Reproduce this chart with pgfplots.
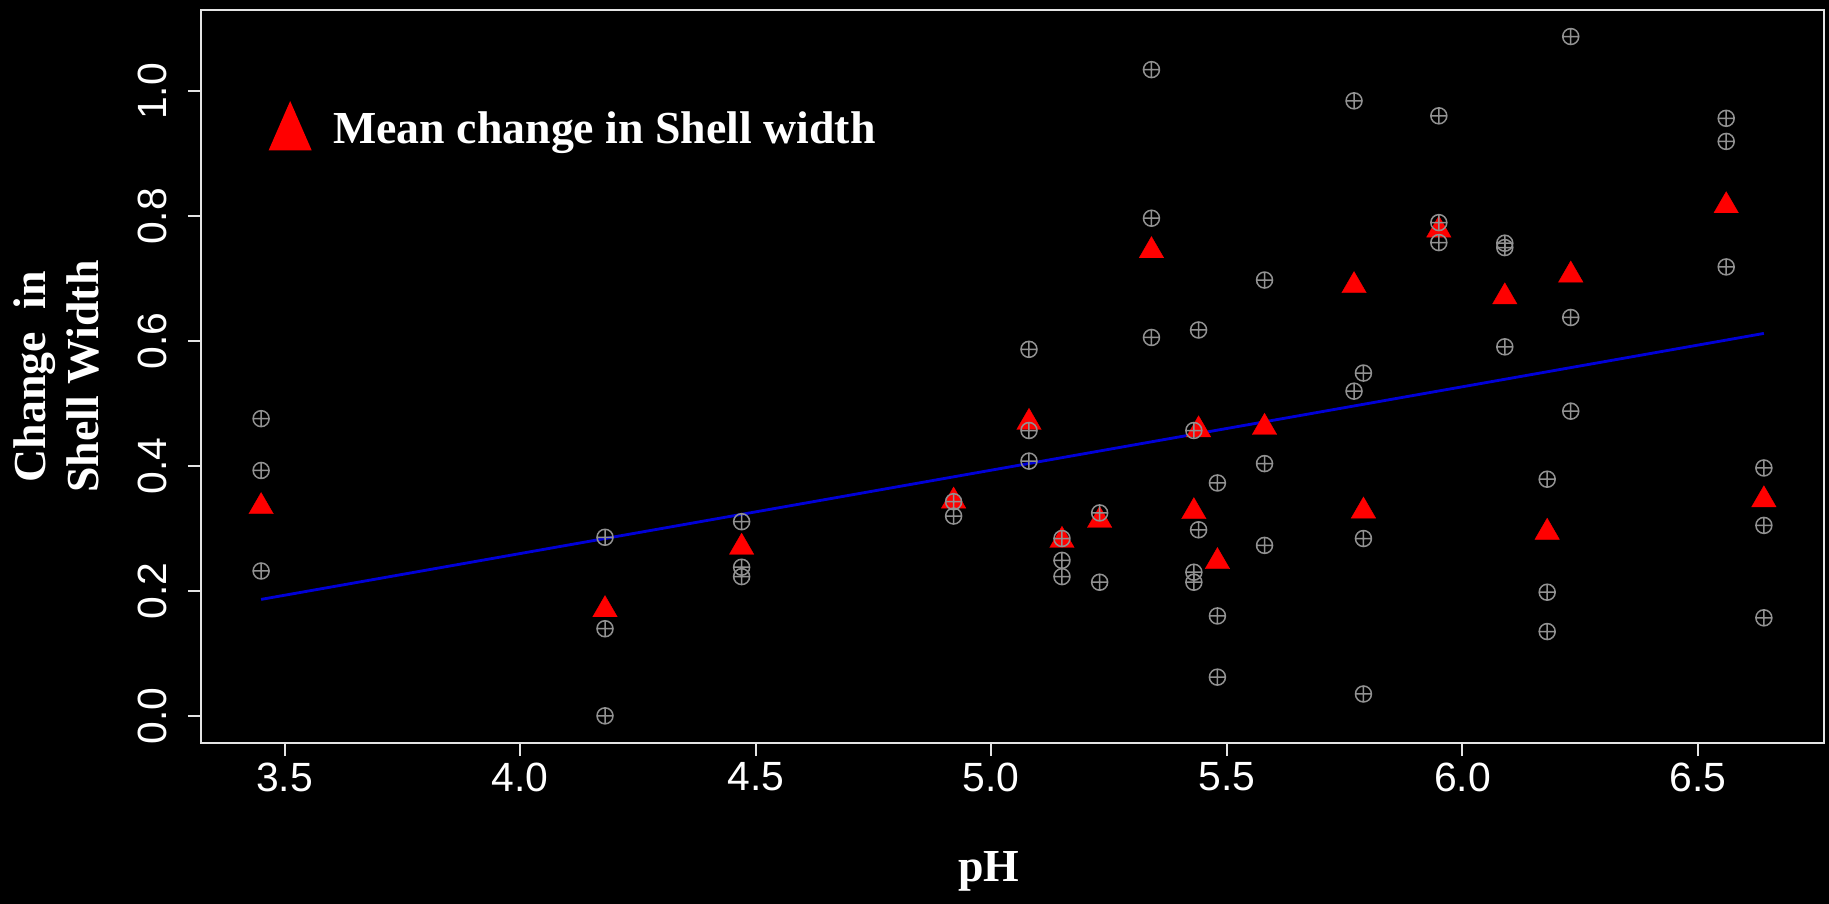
\documentclass[border=0pt]{standalone}
\usepackage{fontspec}
\setmainfont{Liberation Serif}
\newfontfamily\arialf{Liberation Sans}
\usepackage{pgfplots}
\pgfplotsset{compat=1.18}
\definecolor{ptgrey}{RGB}{145,145,145}
\definecolor{fitblue}{RGB}{0,0,215}
\definecolor{axwhite}{RGB}{228,228,228}
\begin{document}
\begin{tikzpicture}
\path[use as bounding box, fill=black] (-60.3bp,-48.3bp) rectangle (488.4bp,222.9bp);
\begin{axis}[
  at={(0,0)}, anchor=south west,
  scale only axis, width=486.9bp, height=219.9bp,
  xmin=3.3224, xmax=6.7676, ymin=-0.0435, ymax=1.1305,
  axis line style={axwhite, line width=0.6bp},
  every tick/.style={axwhite, line width=0.6bp},
  tick align=outside, major tick length=3.9bp,
  xtick pos=bottom, ytick pos=left,
  xtick={3.5,4,4.5,5,5.5,6,6.5},
  ytick={0,0.2,0.4,0.6,0.8,1.0},
  xticklabel={\pgfmathprintnumber[fixed,fixed zerofill,precision=1,assume math mode=true]{\tick}},
  yticklabel={\pgfmathprintnumber[fixed,fixed zerofill,precision=1,assume math mode=true]{\tick}},
  ticklabel style={font=\arialf\fontsize{12.3}{14}\selectfont, text=white},
  xticklabel style={anchor=north, inner sep=0pt, yshift=-1.8bp},
  yticklabel style={xshift=-6bp, rotate=90, anchor=south, inner sep=0pt},
  xlabel={pH},
  xlabel style={at={(axis description cs:0.4855,-0.1883)}, anchor=base, inner sep=0pt,
    font=\bfseries\fontsize{13.8}{16}\selectfont, text=white},
  ylabel={Change\ \ in\\Shell Width},
  ylabel style={at={(axis description cs:-0.0622,0.5)}, anchor=south, align=center, inner sep=0pt,
    font=\bfseries\fontsize{13.8}{16}\selectfont, text=white},
  legend style={at={(axis description cs:0.0419,0.8745)}, anchor=north west, draw=none, fill=none,
    text=white, font=\bfseries\fontsize{13.8}{16}\selectfont, inner sep=0pt, outer sep=0pt,
    nodes={inner sep=0pt, text=white},
    /tikz/every odd column/.append style={column sep=6.6bp}},
]
\addplot[fitblue, line width=0.85bp, forget plot] coordinates {(3.45,0.1865) (6.64,0.6125)};
\addplot[only marks, mark=triangle*, mark size=4.24bp, color=red, mark options={fill=red, draw=red, line width=0.1bp},
  legend image code/.code={\fill[red] (0bp,-6.0bp) -- (12.3bp,-6.0bp) -- (6.15bp,8.1bp) -- cycle;}]
 coordinates {
 (3.45,0.335) (4.18,0.170) (4.47,0.270) (4.92,0.344) (5.08,0.470) (5.15,0.281) (5.23,0.313)
 (5.34,0.745) (5.43,0.327) (5.44,0.458) (5.48,0.247) (5.58,0.462) (5.77,0.689) (5.79,0.328)
 (5.95,0.778) (6.09,0.671) (6.18,0.294) (6.23,0.706) (6.56,0.817) (6.64,0.346)
 };
\addlegendentry{Mean change in Shell width}
\addplot[only marks, mark=oplus, mark size=2.4bp, color=ptgrey, mark options={line width=0.45bp}, forget plot]
 coordinates {
 (3.45,0.476) (3.45,0.393) (3.45,0.232)
 (4.18,0.286) (4.18,0.1395) (4.18,0.0)
 (4.47,0.311) (4.47,0.238) (4.47,0.223)
 (4.92,0.343) (4.92,0.320)
 (5.08,0.587) (5.08,0.457) (5.08,0.408)
 (5.15,0.284) (5.15,0.249) (5.15,0.223)
 (5.23,0.325) (5.23,0.214)
 (5.34,1.035) (5.34,0.797) (5.34,0.606)
 (5.43,0.457) (5.43,0.230) (5.43,0.214)
 (5.44,0.618) (5.44,0.298)
 (5.48,0.373) (5.48,0.160) (5.48,0.062)
 (5.58,0.698) (5.58,0.404) (5.58,0.273)
 (5.77,0.985) (5.77,0.520)
 (5.79,0.549) (5.79,0.284) (5.79,0.035)
 (5.95,0.961) (5.95,0.790) (5.95,0.758)
 (6.09,0.757) (6.09,0.750) (6.09,0.591)
 (6.18,0.379) (6.18,0.198) (6.18,0.135)
 (6.23,1.088) (6.23,0.638) (6.23,0.488)
 (6.56,0.957) (6.56,0.920) (6.56,0.719)
 (6.64,0.397) (6.64,0.305) (6.64,0.157)
 };
\end{axis}
\end{tikzpicture}
\end{document}
